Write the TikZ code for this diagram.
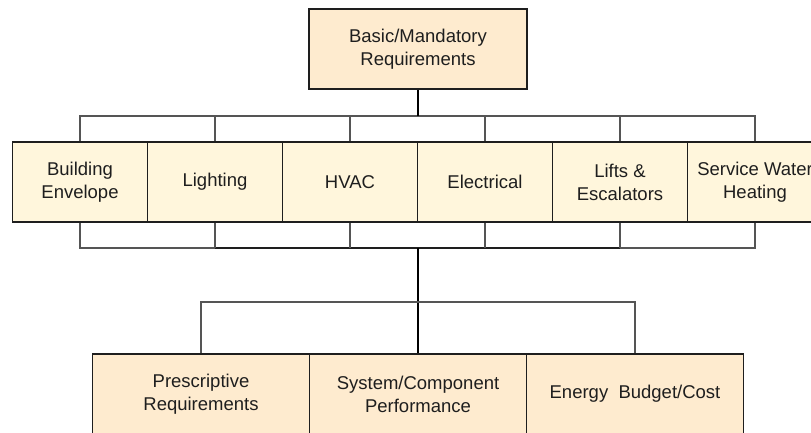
\documentclass[tikz,border=0pt]{standalone}
\usepackage{fontspec}
\setmainfont{Liberation Sans}
\definecolor{midfill}{HTML}{FFF6DC}
\definecolor{peach}{HTML}{FEEBCF}
\definecolor{edge}{HTML}{1E1E1E}
\definecolor{connc}{HTML}{555555}
\begin{document}
\begin{tikzpicture}[x=1pt,y=-1pt,
  box/.style={draw=edge,line width=1.6pt,minimum height=80pt,inner sep=0pt,
    align=center,text=edge,font=\fontsize{18.5}{23}\selectfont},
  midbox/.style={box,fill=midfill,minimum width=135pt},
  peachbox/.style={box,fill=peach},
  conn/.style={draw=connc,line width=1.1pt},
  darkconn/.style={draw=edge,line width=1.4pt},
  trunk/.style={draw=black,line width=2.2pt}]
\clip (0,0) rectangle (811,432);
\fill[white] (0,0) rectangle (811,432);
% top
\node[peachbox,minimum width=218pt] (top) at (418,49) {Basic/Mandatory\\Requirements};
% middle row
\node[midbox] (m1) at (80,182) {Building\\Envelope};
\node[midbox] (m2) at (215,182) {Lighting};
\node[midbox] (m3) at (350,182) {HVAC};
\node[midbox] (m4) at (485,182) {Electrical};
\node[midbox] (m5) at (620,182) {Lifts \&\\Escalators};
\node[midbox] (m6) at (755,182) {Service Water\\Heating};
% bottom row
\node[peachbox,minimum width=217pt] (b1) at (201,394) {Prescriptive\\Requirements};
\node[peachbox,minimum width=217pt] (b2) at (418,394) {System/Component\\Performance};
\node[peachbox,minimum width=217pt] (b3) at (635,394) {Energy\ \ Budget/Cost};
% bus coordinates
\coordinate (ub) at (418,116);
\coordinate (lb) at (418,248);
\coordinate (bb) at (418,302);
% upper bus
\draw[conn] (m1.north) -- (m1.north |- ub) -- (m6.north |- ub) -- (m6.north);
\foreach \n in {m2,m3,m4,m5} \draw[conn] (\n.north) -- (\n.north |- ub);
\draw[trunk] (top.south) -- (ub);
% lower bus
\draw[conn] (m1.south) -- (m1.south |- lb) -- (m2.south |- lb);
\draw[conn] (m5.south |- lb) -- (m6.south |- lb) -- (m6.south);
\draw[darkconn] (m2.south |- lb) -- (m5.south |- lb);
\foreach \n in {m2,m3,m4,m5} \draw[conn] (\n.south) -- (\n.south |- lb);
\draw[trunk] (lb) -- (b2.north);
% bottom bus
\draw[conn] (b1.north) -- (b1.north |- bb) -- (b3.north |- bb) -- (b3.north);
\end{tikzpicture}
\end{document}
